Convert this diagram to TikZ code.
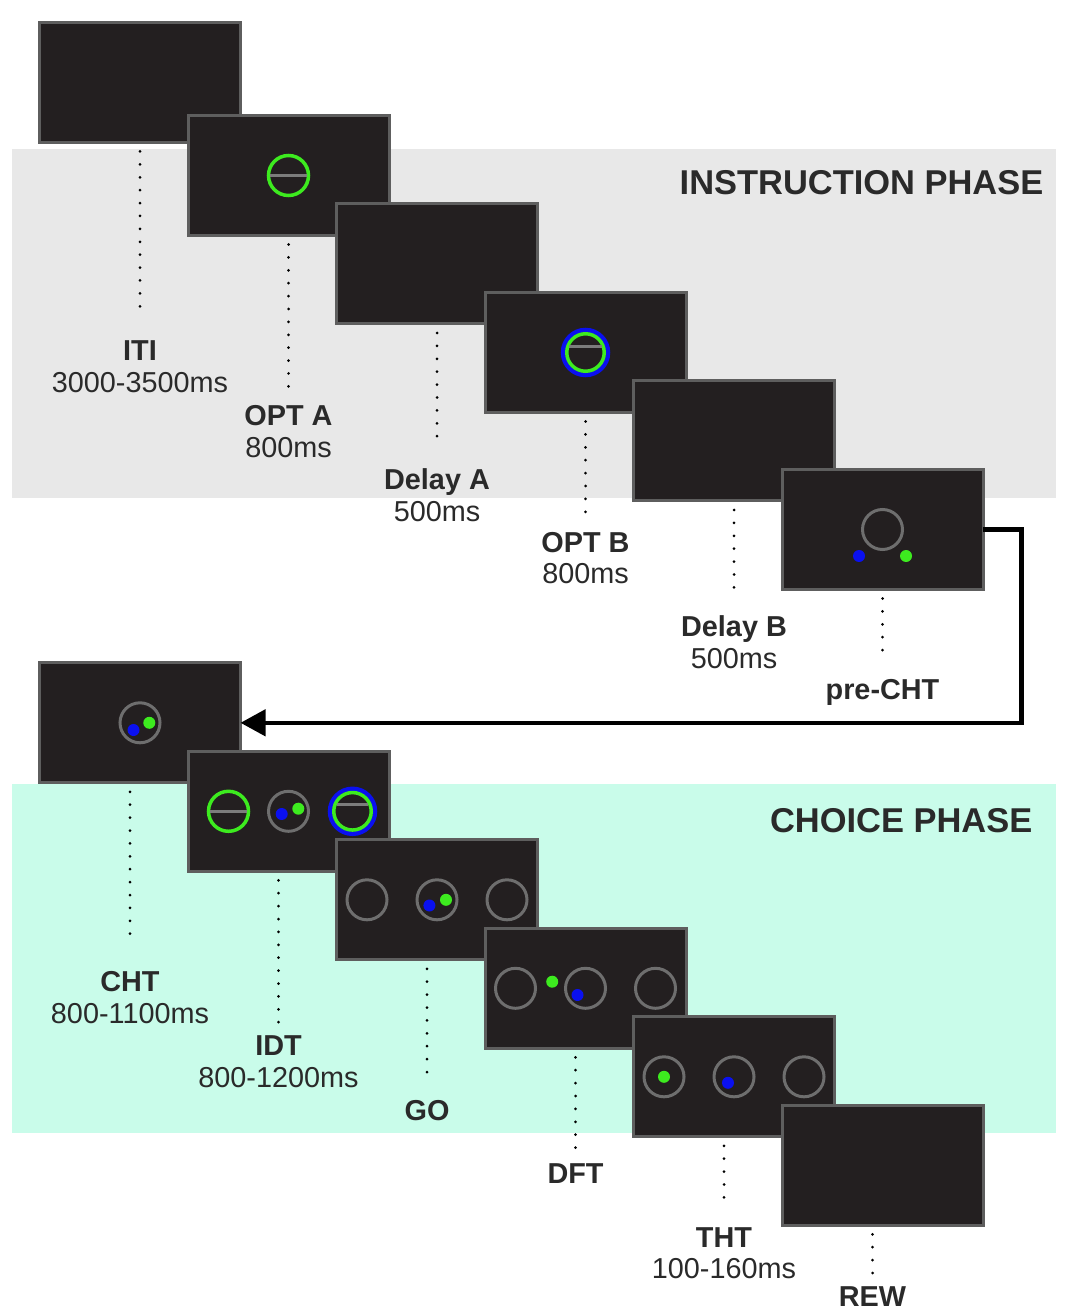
\documentclass[tikz,border=0pt]{standalone}
\usepackage{fontspec}
\setmainfont{Liberation Sans}
\usetikzlibrary{positioning,arrows.meta}

\definecolor{screenfill}{HTML}{231F20}
\definecolor{screenedge}{HTML}{5E5E5E}
\definecolor{ringgray}{HTML}{6E6E6E}
\definecolor{bargray}{HTML}{7C7C7C}
\definecolor{optgreen}{HTML}{3DEB1F}
\definecolor{optblue}{HTML}{0A10F0}
\definecolor{instrbg}{HTML}{E8E8E8}
\definecolor{choicebg}{HTML}{C9FCEA}
\definecolor{labeltext}{HTML}{2A2A2A}

\tikzset{
	screen/.style={rectangle, draw=screenedge, fill=screenfill, line width=0.03cm,
		minimum width=2.01cm, minimum height=1.20cm, inner sep=0, outer sep=0},
	nextscreen/.style={below right=-0.315cm and -0.525cm of #1},
	ring/.style={circle, draw=#1, line width=0.035cm, minimum size=0.40cm, inner sep=0, outer sep=0},
	bluering/.style={ring=optblue, line width=0.045cm, minimum size=0.45cm},
	dot/.style={circle, fill=#1, minimum size=0.12cm, inner sep=0},
	bar/.style={draw=bargray, line width=0.026cm, shorten >=0.017cm, shorten <=0.017cm},
	phase/.style={font=\fontsize{9.8}{11}\selectfont\bfseries, text=labeltext, inner sep=0},
	timing/.style={font=\fontsize{8.2}{9}\selectfont, text=labeltext, align=center, inner sep=0},
	dots/.style={black, line width=0.03cm, dash pattern=on 0pt off 0.129cm, line cap=round},
	backarrow/.style={black, line width=0.045cm, -{Triangle[length=0.25cm,width=0.26cm]}},
}

\begin{document}
\begin{tikzpicture}
	\useasboundingbox (0,0) rectangle (10.72,-13.11);
	\fill[instrbg] (0.117,-1.49) rectangle (10.56,-4.98);
	\fill[choicebg] (0.117,-7.835) rectangle (10.56,-11.33);
	\node[phase, anchor=base east] (instr) at (10.44,-1.95) {INSTRUCTION PHASE};
	\node[phase, anchor=base east] (choice) at (10.33,-8.325) {CHOICE PHASE};

	\node[screen] (i1) at (1.40,-0.825) {};
	\node[screen, below right=-0.27cm and -0.525cm of i1] (i2) {};
	\node[ring=optgreen] (optA) at (i2) {};
	\draw[bar] (optA.west) -- (optA.east);
	\node[screen, nextscreen=i2] (i3) {};
	\node[screen, nextscreen=i3] (i4) {};
	\node[bluering] (optBout) at (i4) {};
	\node[ring=optgreen, minimum size=0.375cm] (optB) at (i4) {};
	\draw[bar] (optB.162) -- (optB.18);
	\node[screen, nextscreen=i4] (i5) {};
	\node[screen, nextscreen=i5] (i6) {};
	\node[ring=ringgray, line width=0.03cm] (preRing) at (i6) {};
	\node[dot=optblue] (preBlue) at ([shift={(-0.235,-0.265)}]i6.center) {};
	\node[dot=optgreen] (preGreen) at ([shift={(0.235,-0.265)}]i6.center) {};

	\node[timing, below=1.975cm of i1] (iti) {\textbf{ITI}\\3000-3500ms};
	\node[timing, below=1.695cm of i2] (optAlbl) {\textbf{OPT A}\\800ms};
	\node[timing, below=1.443cm of i3] (delayA) {\textbf{Delay A}\\500ms};
	\node[timing, below=1.19cm of i4] (optBlbl) {\textbf{OPT B}\\800ms};
	\node[timing, below=1.14cm of i5] (delayB) {\textbf{Delay B}\\500ms};
	\node[timing, below=0.89cm of i6] (prelbl) {\textbf{pre-CHT}};
	\draw[dots] ([yshift=-0.09cm]i1.south) -- ([yshift=0.30cm]iti.north);
	\draw[dots] ([yshift=-0.09cm]i2.south) -- ([yshift=0.13cm]optAlbl.north);
	\draw[dots] ([yshift=-0.09cm]i3.south) -- ([yshift=0.28cm]delayA.north);
	\draw[dots] ([yshift=-0.09cm]i4.south) -- ([yshift=0.15cm]optBlbl.north);
	\draw[dots] ([yshift=-0.09cm]i5.south) -- ([yshift=0.23cm]delayB.north);
	\draw[dots] ([yshift=-0.09cm]i6.south) -- ([yshift=0.18cm]prelbl.north);

	\node[screen] (c1) at (1.40,-7.228) {};
	\node[ring=ringgray, line width=0.03cm] (chtRing) at (c1) {};
	\node[dot=optblue] (chtBlue) at ([shift={(-0.065,-0.072)}]c1.center) {};
	\node[dot=optgreen] (chtGreen) at ([shift={(0.093,0)}]c1.center) {};
	\draw[backarrow] (i6.east) -- ++(0.387,0) |- (c1.east);

	\node[screen, nextscreen=c1] (c2) {};
	\node[ring=optgreen] (idtA) at ([xshift=-0.60cm]c2.center) {};
	\draw[bar] (idtA.west) -- (idtA.east);
	\node[ring=ringgray, line width=0.03cm] (idtMid) at (c2) {};
	\node[dot=optblue] (idtBlue) at ([shift={(-0.068,-0.027)}]c2.center) {};
	\node[dot=optgreen] (idtGreen) at ([shift={(0.098,0.026)}]c2.center) {};
	\node[bluering] (idtBout) at ([xshift=0.64cm]c2.center) {};
	\node[ring=optgreen, minimum size=0.375cm] (idtB) at ([xshift=0.64cm]c2.center) {};
	\draw[bar] (idtB.159) -- (idtB.21);

	\node[screen, nextscreen=c2] (c3) {};
	\node[ring=ringgray, line width=0.03cm] (goL) at ([xshift=-0.70cm]c3.center) {};
	\node[ring=ringgray, line width=0.03cm] (goM) at (c3) {};
	\node[ring=ringgray, line width=0.03cm] (goR) at ([xshift=0.70cm]c3.center) {};
	\node[dot=optblue] (goBlue) at ([shift={(-0.076,-0.057)}]c3.center) {};
	\node[dot=optgreen] (goGreen) at ([shift={(0.09,0)}]c3.center) {};

	\node[screen, nextscreen=c3] (c4) {};
	\node[ring=ringgray, line width=0.03cm] (dftL) at ([xshift=-0.70cm]c4.center) {};
	\node[ring=ringgray, line width=0.03cm] (dftM) at (c4) {};
	\node[ring=ringgray, line width=0.03cm] (dftR) at ([xshift=0.70cm]c4.center) {};
	\node[dot=optgreen] (dftGreen) at ([shift={(-0.333,0.066)}]c4.center) {};
	\node[dot=optblue] (dftBlue) at ([shift={(-0.08,-0.067)}]c4.center) {};

	\node[screen, nextscreen=c4] (c5) {};
	\node[ring=ringgray, line width=0.03cm] (thtL) at ([xshift=-0.70cm]c5.center) {};
	\node[ring=ringgray, line width=0.03cm] (thtM) at (c5) {};
	\node[ring=ringgray, line width=0.03cm] (thtR) at ([xshift=0.70cm]c5.center) {};
	\node[dot=optgreen] (thtGreen) at (thtL) {};
	\node[dot=optblue] (thtBlue) at ([shift={(-0.06,-0.06)}]c5.center) {};

	\node[screen, nextscreen=c5] (c6) {};

	\node[timing, below=1.88cm of c1, xshift=-0.1cm] (cht) {\textbf{CHT}\\800-1100ms};
	\node[timing, below=1.637cm of c2, xshift=-0.1cm] (idt) {\textbf{IDT}\\800-1200ms};
	\node[timing, below=1.40cm of c3, xshift=-0.1cm] (go) {\textbf{GO}};
	\node[timing, below=1.15cm of c4, xshift=-0.1cm] (dft) {\textbf{DFT}};
	\node[timing, below=0.90cm of c5, xshift=-0.1cm] (tht) {\textbf{THT}\\100-160ms};
	\node[timing, below=0.61cm of c6, xshift=-0.1cm] (rew) {\textbf{REW}};
	\draw[dots] ([xshift=-0.1cm, yshift=-0.09cm]c1.south) -- ([yshift=0.31cm]cht.north);
	\draw[dots] ([xshift=-0.1cm, yshift=-0.09cm]c2.south) -- ([yshift=0.12cm]idt.north);
	\draw[dots] ([xshift=-0.1cm, yshift=-0.09cm]c3.south) -- ([yshift=0.27cm]go.north);
	\draw[dots] ([xshift=-0.1cm, yshift=-0.09cm]c4.south) -- ([yshift=0.15cm]dft.north);
	\draw[dots] ([xshift=-0.1cm, yshift=-0.09cm]c5.south) -- ([yshift=0.28cm]tht.north);
	\draw[dots] ([xshift=-0.1cm, yshift=-0.09cm]c6.south) -- ([yshift=0.08cm]rew.north);
\end{tikzpicture}
\end{document}
